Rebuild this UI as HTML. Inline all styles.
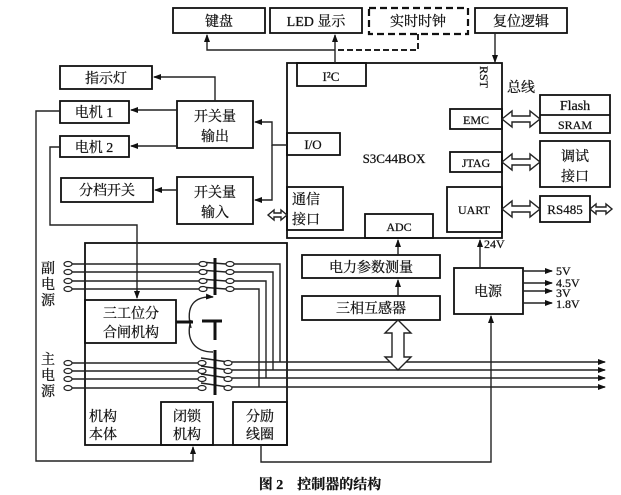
<!DOCTYPE html>
<html><head><meta charset="utf-8"><style>
html,body{margin:0;padding:0;background:#fff;}
svg{display:block;}
text{font-family:"Liberation Serif","Noto Serif CJK SC","Noto Sans CJK SC",serif;fill:#111;stroke:#111;stroke-width:0.25;}
</style></head><body>
<svg width="621" height="495" viewBox="0 0 621 495" xmlns="http://www.w3.org/2000/svg">
<defs>
<marker id="a" markerWidth="8" markerHeight="6" refX="7" refY="3" orient="auto" markerUnits="userSpaceOnUse"><path d="M0,0 L8,3 L0,6 z" fill="#111"/></marker>
</defs>
<g stroke="#111" stroke-width="1.8" fill="none">
<rect x="173" y="8" width="92" height="25"/>
<rect x="270" y="8" width="92" height="25"/>
<rect x="369" y="8" width="99" height="26" stroke-dasharray="7,4" stroke-width="2.2"/>
<rect x="475" y="8" width="92" height="25"/>
<rect x="287" y="63" width="215" height="175"/>
<rect x="297" y="63" width="69" height="23"/>
<rect x="450" y="109" width="52" height="20"/>
<rect x="450" y="152" width="52" height="20"/>
<rect x="447" y="187" width="55" height="45"/>
<rect x="287" y="133" width="53" height="22"/>
<rect x="287" y="187" width="56" height="43"/>
<rect x="365" y="214" width="68" height="24"/>
<rect x="540" y="95" width="70" height="38"/>
<line x1="540" y1="115" x2="610" y2="115"/>
<rect x="540" y="141" width="70" height="46"/>
<rect x="540" y="196" width="50" height="26"/>
<rect x="60" y="66" width="92" height="23"/>
<rect x="60" y="101" width="69" height="22"/>
<rect x="60" y="136" width="69" height="21"/>
<rect x="61" y="178" width="92" height="24"/>
<rect x="177" y="101" width="76" height="47"/>
<rect x="177" y="177" width="76" height="47"/>
<rect x="85" y="243" width="202" height="202"/>
<rect x="85" y="300" width="91" height="43"/>
<rect x="161" y="402" width="52" height="43"/>
<rect x="233" y="402" width="54" height="43"/>
<rect x="302" y="255" width="138" height="23"/>
<rect x="302" y="296" width="138" height="24"/>
<rect x="454" y="268" width="69" height="46"/>
</g>
<g stroke="#222" stroke-width="1.4" fill="none">
<polyline points="335,50 207,50 207,35" marker-end="url(#a)"/>
<polyline points="418,34 418,50 335,50" stroke-dasharray="6,3" stroke-width="2"/>
<line x1="335" y1="63" x2="335" y2="35" marker-end="url(#a)"/>
<line x1="495" y1="33" x2="495" y2="62" marker-end="url(#a)"/>
<polyline points="287,145 272,145 272,122 255,122" marker-end="url(#a)"/>
<polyline points="272,145 272,200 255,200" marker-end="url(#a)"/>
<polyline points="215,101 215,77 154,77" marker-end="url(#a)"/>
<line x1="177" y1="110" x2="131" y2="110" marker-end="url(#a)"/>
<line x1="177" y1="146" x2="131" y2="146" marker-end="url(#a)"/>
<line x1="177" y1="190" x2="155" y2="190" marker-end="url(#a)"/>
<polyline points="60,111 36,111 36,461 193,461 193,447" marker-end="url(#a)"/>
<polyline points="60,147 50,147 50,225 137,225 137,298" marker-end="url(#a)"/>
<polyline points="261,445 261,462 491,462 491,316" marker-end="url(#a)"/>
<line x1="480" y1="268" x2="480" y2="240" marker-end="url(#a)"/>
<line x1="398" y1="255" x2="398" y2="240" marker-end="url(#a)"/>
<line x1="398" y1="296" x2="398" y2="280" marker-end="url(#a)"/>
<line x1="523" y1="271" x2="552" y2="271" marker-end="url(#a)"/>
<line x1="523" y1="283" x2="552" y2="283" marker-end="url(#a)"/>
<line x1="523" y1="291" x2="552" y2="291" marker-end="url(#a)"/>
<line x1="523" y1="303" x2="552" y2="303" marker-end="url(#a)"/>
<line x1="72" y1="264" x2="200" y2="264"/><line x1="72" y1="272" x2="200" y2="272"/>
<line x1="72" y1="281" x2="200" y2="281"/><line x1="72" y1="289" x2="200" y2="289"/>
<polyline points="233,264 280,264 280,362"/><polyline points="233,272 273,272 273,370"/>
<polyline points="233,281 266,281 266,378"/><polyline points="233,289 259,289 259,387"/>
<line x1="72" y1="363" x2="199" y2="363"/><line x1="72" y1="371" x2="199" y2="371"/>
<line x1="72" y1="379" x2="199" y2="379"/><line x1="72" y1="388" x2="199" y2="388"/>
<line x1="232" y1="362" x2="605" y2="362" marker-end="url(#a)"/>
<line x1="232" y1="370" x2="605" y2="370" marker-end="url(#a)"/>
<line x1="232" y1="378" x2="605" y2="378" marker-end="url(#a)"/>
<line x1="232" y1="387" x2="605" y2="387" marker-end="url(#a)"/>
<line x1="200" y1="262" x2="226" y2="264"/><line x1="200" y1="270" x2="226" y2="272"/>
<line x1="200" y1="279" x2="226" y2="281"/><line x1="200" y1="287" x2="226" y2="289"/>
<line x1="201" y1="358" x2="228" y2="362"/><line x1="201" y1="366" x2="228" y2="370"/>
<line x1="201" y1="374" x2="228" y2="378"/><line x1="201" y1="383" x2="228" y2="387"/>
<path d="M191,328 C185,305 195,296 213,297" marker-end="url(#a)"/>
<path d="M191,320 C185,340 195,352 213,352"/>
</g>
<g stroke="#222" stroke-width="1.2" fill="#fff">
<ellipse cx="68" cy="264" rx="4" ry="2.5"/><ellipse cx="68" cy="272" rx="4" ry="2.5"/><ellipse cx="68" cy="281" rx="4" ry="2.5"/><ellipse cx="68" cy="289" rx="4" ry="2.5"/>
<ellipse cx="68" cy="363" rx="4" ry="2.5"/><ellipse cx="68" cy="371" rx="4" ry="2.5"/><ellipse cx="68" cy="379" rx="4" ry="2.5"/><ellipse cx="68" cy="388" rx="4" ry="2.5"/>
<ellipse cx="203" cy="264" rx="4" ry="2.5"/><ellipse cx="203" cy="272" rx="4" ry="2.5"/><ellipse cx="203" cy="281" rx="4" ry="2.5"/><ellipse cx="203" cy="289" rx="4" ry="2.5"/>
<ellipse cx="230" cy="264" rx="4" ry="2.5"/><ellipse cx="230" cy="272" rx="4" ry="2.5"/><ellipse cx="230" cy="281" rx="4" ry="2.5"/><ellipse cx="230" cy="289" rx="4" ry="2.5"/>
<ellipse cx="202" cy="363" rx="4" ry="2.5"/><ellipse cx="202" cy="371" rx="4" ry="2.5"/><ellipse cx="202" cy="379" rx="4" ry="2.5"/><ellipse cx="202" cy="388" rx="4" ry="2.5"/>
<ellipse cx="228" cy="363" rx="4" ry="2.5"/><ellipse cx="228" cy="371" rx="4" ry="2.5"/><ellipse cx="228" cy="379" rx="4" ry="2.5"/><ellipse cx="228" cy="388" rx="4" ry="2.5"/>
</g>
<g stroke="#111" stroke-width="3">
<line x1="215" y1="258" x2="215" y2="295"/>
<line x1="215" y1="320" x2="215" y2="340"/>
<line x1="215" y1="350" x2="215" y2="395"/>
<line x1="176" y1="322" x2="193" y2="322"/>
<line x1="202" y1="321" x2="222" y2="321"/>
</g>
<g stroke="#222" stroke-width="1.4" fill="#fff">
<path d="M502,119 L512,111 L512,116 L530,116 L530,111 L540,119 L530,127 L530,122 L512,122 L512,127 Z"/>
<path d="M502,162 L512,154 L512,159 L530,159 L530,154 L540,162 L530,170 L530,165 L512,165 L512,170 Z"/>
<path d="M502,209 L512,201 L512,206 L530,206 L530,201 L540,209 L530,217 L530,212 L512,212 L512,217 Z"/>
<path d="M590,209 L596,204 L596,207 L606,207 L606,204 L612,209 L606,214 L606,211 L596,211 L596,214 Z"/>
<path d="M268,215 L274,210 L274,213 L281,213 L281,210 L287,215 L281,220 L281,217 L274,217 L274,220 Z"/>
<path d="M398,320 L411,333 L404,333 L404,357 L411,357 L398,370 L385,357 L392,357 L392,333 L385,333 Z"/>
</g>
<g font-size="14">
<text x="219" y="26" text-anchor="middle">键盘</text>
<text x="316" y="26" text-anchor="middle">LED 显示</text>
<text x="418" y="26" text-anchor="middle">实时时钟</text>
<text x="521" y="26" text-anchor="middle">复位逻辑</text>
<text x="331" y="81" text-anchor="middle" font-size="13">I²C</text>
<text x="313" y="149" text-anchor="middle" font-size="13">I/O</text>
<text x="394" y="163" text-anchor="middle" font-size="13">S3C44BOX</text>
<text x="476" y="124" text-anchor="middle" font-size="12">EMC</text>
<text x="476" y="167" text-anchor="middle" font-size="12">JTAG</text>
<text x="474" y="214" text-anchor="middle" font-size="12">UART</text>
<text x="399" y="231" text-anchor="middle" font-size="12">ADC</text>
<text x="292" y="204">通信</text><text x="292" y="224">接口</text>
<text x="480" y="66" font-size="12" transform="rotate(90 480 66)">RST</text>
<text x="507" y="92">总线</text>
<text x="575" y="110" text-anchor="middle">Flash</text>
<text x="575" y="129" text-anchor="middle" font-size="12">SRAM</text>
<text x="575" y="161" text-anchor="middle">调试</text><text x="575" y="181" text-anchor="middle">接口</text>
<text x="565" y="214" text-anchor="middle" font-size="13">RS485</text>
<text x="106" y="83" text-anchor="middle">指示灯</text>
<text x="94" y="117" text-anchor="middle">电机 1</text>
<text x="94" y="152" text-anchor="middle">电机 2</text>
<text x="107" y="195" text-anchor="middle">分档开关</text>
<text x="215" y="121" text-anchor="middle">开关量</text><text x="215" y="141" text-anchor="middle">输出</text>
<text x="215" y="197" text-anchor="middle">开关量</text><text x="215" y="217" text-anchor="middle">输入</text>
<text x="131" y="318" text-anchor="middle">三工位分</text><text x="131" y="337" text-anchor="middle">合闸机构</text>
<text x="89" y="421">机构</text><text x="89" y="439">本体</text>
<text x="187" y="421" text-anchor="middle">闭锁</text><text x="187" y="439" text-anchor="middle">机构</text>
<text x="260" y="421" text-anchor="middle">分励</text><text x="260" y="439" text-anchor="middle">线圈</text>
<text x="48" y="273" text-anchor="middle">副</text><text x="48" y="289" text-anchor="middle">电</text><text x="48" y="305" text-anchor="middle">源</text>
<text x="48" y="364" text-anchor="middle">主</text><text x="48" y="380" text-anchor="middle">电</text><text x="48" y="396" text-anchor="middle">源</text>
<text x="371" y="272" text-anchor="middle">电力参数测量</text>
<text x="371" y="313" text-anchor="middle">三相互感器</text>
<text x="488" y="296" text-anchor="middle">电源</text>
<text x="484" y="248" font-size="12">24V</text>
<text x="556" y="275" font-size="12">5V</text>
<text x="556" y="287" font-size="12">4.5V</text>
<text x="556" y="297" font-size="12">3V</text>
<text x="556" y="308" font-size="12">1.8V</text>
<text x="320" y="489" text-anchor="middle" font-weight="bold" font-family="Liberation Sans,Noto Sans CJK SC,sans-serif">图 2　控制器的结构</text>
</g>
</svg>
</body></html>
